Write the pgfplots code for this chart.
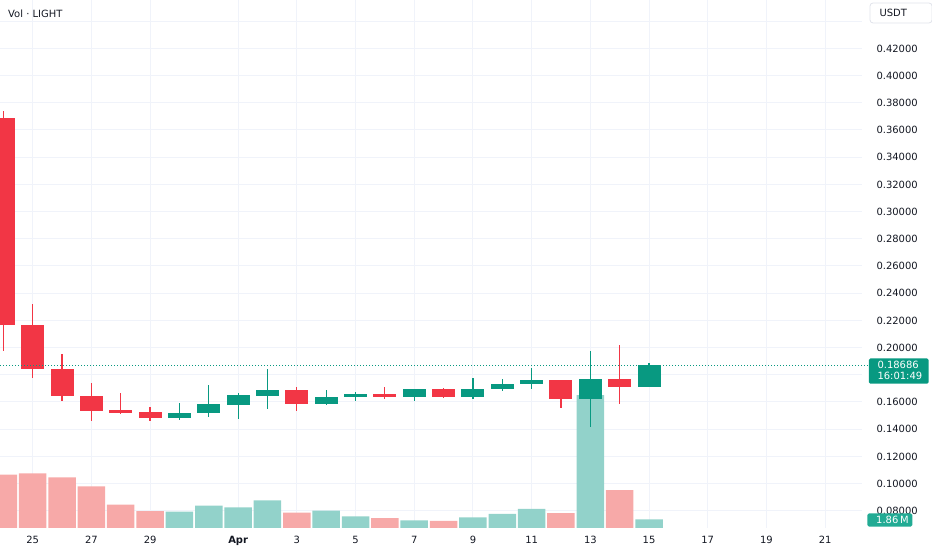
\documentclass[border=0pt]{standalone}
\usepackage{pgfplots}
\pgfplotsset{compat=1.18}
\usepackage{pgfplotstable}
\usepackage{fontspec}
\setmainfont{DejaVu Sans}
\definecolor{tvred}{HTML}{F23645}
\definecolor{tvgreen}{HTML}{089981}
\definecolor{volred}{HTML}{F7A9A8}
\definecolor{volgreen}{HTML}{92D2CA}
\definecolor{tvtext}{HTML}{131722}
\definecolor{tvgrid}{HTML}{F0F3FA}
\definecolor{vollabel}{HTML}{22AB94}
\definecolor{boxborder}{HTML}{E0E3EB}

% day index: 0 = Mar 25
\pgfplotstableread{
d o h l c
-1 0.3686 0.3742 0.1977 0.2166
0 0.2166 0.2318 0.1774 0.1840
1 0.1840 0.1951 0.1610 0.1646
2 0.1646 0.1737 0.1462 0.1536
3 0.1541 0.1664 0.1515 0.1517
4 0.1524 0.1565 0.1462 0.1480
9 0.1688 0.1708 0.1536 0.1585
12 0.1659 0.1708 0.1620 0.1635
14 0.1693 0.1701 0.1627 0.1635
18 0.1762 0.1765 0.1556 0.1620
20 0.1767 0.2019 0.1585 0.1713
}\redc

\pgfplotstableread{
d o h l c
5 0.1480 0.1595 0.1471 0.1521
6 0.1521 0.1725 0.1492 0.1583
7 0.1578 0.1668 0.1475 0.1651
8 0.1646 0.1843 0.1549 0.1688
10 0.1585 0.1688 0.1578 0.1635
11 0.1639 0.1676 0.1607 0.1659
13 0.1635 0.1696 0.1610 0.1693
15 0.1635 0.1774 0.1622 0.1693
16 0.1693 0.1771 0.1683 0.1735
17 0.1735 0.1848 0.1698 0.1762
19 0.1620 0.1975 0.1418 0.1767
21 0.1713 0.1889 0.1713 0.18686
}\greenc

\pgfplotstableread{
d v
-1 11.4
0 11.7
1 10.8
2 8.9
3 5.0
4 3.6
9 3.3
12 2.1
14 1.5
18 3.2
20 8.1
}\redv

\pgfplotstableread{
d v
5 3.5
6 4.8
7 4.4
8 5.9
10 3.7
11 2.5
13 1.65
15 2.25
16 3.0
17 4.1
19 28.4
21 1.86
}\greenv

\pgfplotsset{
  tvbase/.style={
    at={(0,0)}, anchor=south west,
    width=862bp, height=528bp, scale only axis,
    xmin=-1.114, xmax=28.256,
  },
}

\begin{document}
\begin{tikzpicture}
\path[use as bounding box] (0,-22bp) rectangle (932bp,528bp);

% grid + tick labels
\begin{axis}[tvbase,
  ymin=0.06735, ymax=0.45559,
  axis line style={draw=none},
  major tick length=0pt,
  grid=major,
  major grid style={tvgrid, line width=1bp},
  xtick={0,2,4,7,9,11,13,15,17,19,21,23,25,27},
  xticklabels={25,27,29,\textbf{Apr},3,5,7,9,11,13,15,17,19,21},
  ytick={0.08,0.10,0.12,0.14,0.16,0.18,0.20,0.22,0.24,0.26,0.28,0.30,0.32,0.34,0.36,0.38,0.40,0.42,0.44},
  yticklabels={0.08000,0.10000,0.12000,0.14000,0.16000,{},0.20000,0.22000,0.24000,0.26000,0.28000,0.30000,0.32000,0.34000,0.36000,0.38000,0.40000,0.42000,{}},
  yticklabel pos=right,
  tick label style={font=\fontsize{10}{12}\selectfont, text=tvtext},
  yticklabel style={anchor=west, xshift=11bp},
  xticklabel style={anchor=base, yshift=-15.6bp},
]
\addplot[draw=none, forget plot] coordinates {(0,0.1) (1,0.1)};
\end{axis}

% volume
\begin{axis}[tvbase, hide axis, ymin=0, ymax=112.9]
\addplot[ybar, bar width=27.5bp, bar shift=0pt, fill=volred, draw=none]
  table[x=d, y=v] {\redv};
\addplot[ybar, bar width=27.5bp, bar shift=0pt, fill=volgreen, draw=none]
  table[x=d, y=v] {\greenv};
\end{axis}

% candles
\begin{axis}[tvbase, hide axis, ymin=0.06735, ymax=0.45559, clip=false]
% wicks
\addplot[draw=none, mark=none, error bars/.cd, y dir=both, y explicit, error mark=none,
  error bar style={draw=tvred, line width=1.2bp}]
  table[x=d, y expr=(\thisrow{h}+\thisrow{l})/2, y error expr=(\thisrow{h}-\thisrow{l})/2] {\redc};
\addplot[draw=none, mark=none, error bars/.cd, y dir=both, y explicit, error mark=none,
  error bar style={draw=tvgreen, line width=1.2bp}]
  table[x=d, y expr=(\thisrow{h}+\thisrow{l})/2, y error expr=(\thisrow{h}-\thisrow{l})/2] {\greenc};
% bodies
\addplot[draw=none, mark=none, error bars/.cd, y dir=both, y explicit, error mark=none,
  error bar style={draw=tvred, line width=23bp}]
  table[x=d, y expr=(\thisrow{o}+\thisrow{c})/2, y error expr=abs(\thisrow{o}-\thisrow{c})/2] {\redc};
\addplot[draw=none, mark=none, error bars/.cd, y dir=both, y explicit, error mark=none,
  error bar style={draw=tvgreen, line width=23bp}]
  table[x=d, y expr=(\thisrow{o}+\thisrow{c})/2, y error expr=abs(\thisrow{o}-\thisrow{c})/2] {\greenc};
% last price line
\addplot[tvgreen, line width=0.8bp, dash pattern=on 1bp off 2bp] coordinates {(-1.114,0.18686) (28.46,0.18686)};
\end{axis}

% annotations
\node[anchor=west, inner sep=0, text=tvtext, font=\fontsize{10}{12}\selectfont] at (8bp,514.7bp) {Vol · LIGHT};
\draw[boxborder, fill=white, rounded corners=3bp, line width=0.8bp] (870bp,505bp) rectangle (932bp,525bp);
\node[anchor=west, inner sep=0, text=tvtext, font=\fontsize{10}{12}\selectfont] at (879.3bp,514.7bp) {USDT};

\fill[tvgreen, rounded corners=1.5bp] (868.9bp,144.3bp) rectangle (928.6bp,169.5bp);
\node[anchor=west, inner sep=0, text=white, font=\fontsize{10}{12}\selectfont] at (877.3bp,162.8bp) {0.18686};
\node[anchor=west, inner sep=0, text=white, font=\fontsize{10}{12}\selectfont] at (877.3bp,151.7bp) {16:01:49};

\fill[vollabel, rounded corners=1.5bp] (867.3bp,1.5bp) rectangle (912.3bp,14.5bp);
\node[anchor=west, inner sep=0, text=white, font=\fontsize{10}{12}\selectfont] at (876bp,8bp) {1.86\,M};
\end{tikzpicture}
\end{document}
